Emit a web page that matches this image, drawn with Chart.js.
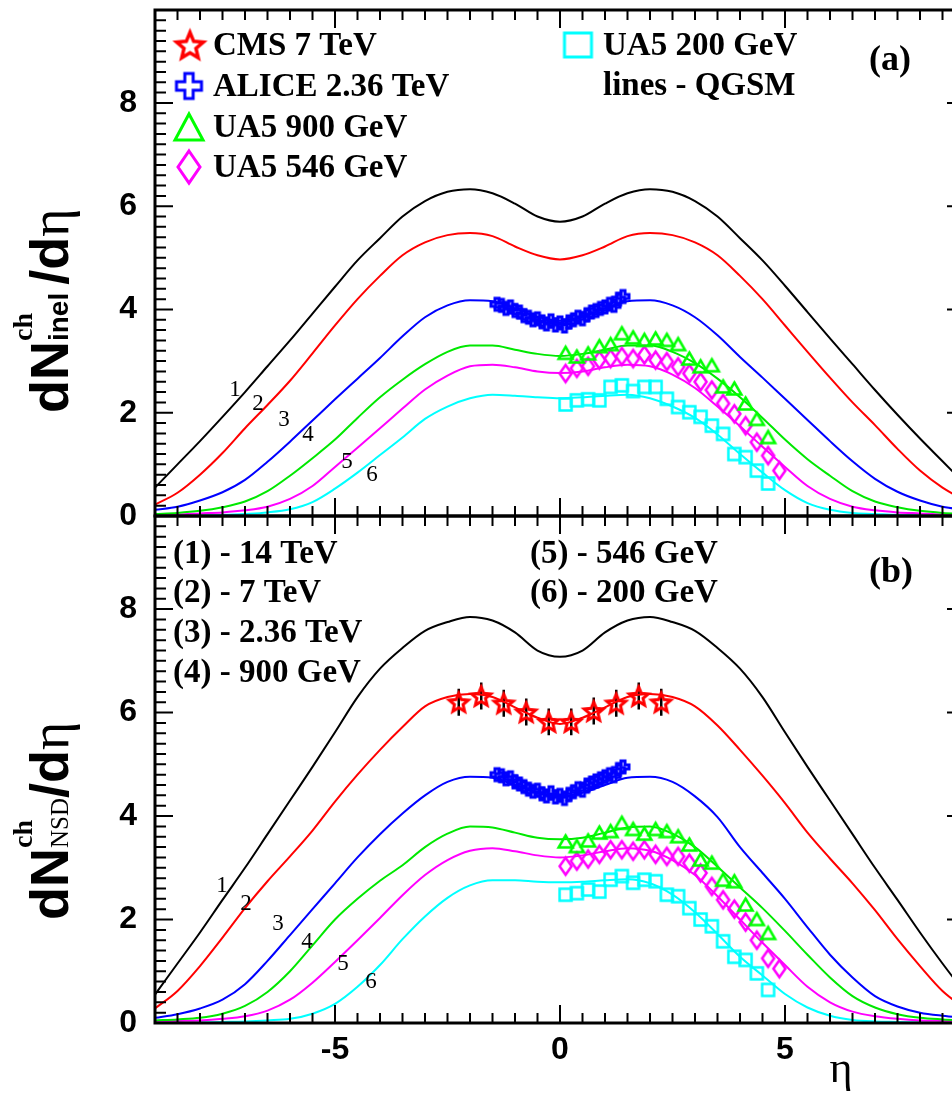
<!DOCTYPE html>
<html>
<head>
<meta charset="utf-8">
<script src="https://cdn.jsdelivr.net/npm/chart.js@4.4.1/dist/chart.umd.min.js"></script>
<style>
  html, body { margin: 0; padding: 0; background: #fff; overflow: hidden; width: 952px; height: 1097px; }
  canvas { position: absolute; left: 0; }
</style>
</head>
<body>
<canvas id="chartA" width="980" height="545" style="top:0px"></canvas>
<canvas id="chartB" width="980" height="607" style="top:490px"></canvas>
<script>
// η grid of the QGSM curves
const etaGrid = [-9,-8.5,-8,-7.5,-7,-6.5,-6,-5.5,-5,-4.5,-4,-3.5,-3,-2.5,-2,-1.5,-1,-0.5,0,0.5,1,1.5,2,2.5,3,3.5,4,4.5,5,5.5,6,6.5,7,7.5,8,8.5,9];

// (a) QGSM, inelastic
const inel14  = [0.55,1.00,1.45,1.92,2.40,2.90,3.40,3.92,4.44,4.95,5.38,5.80,6.10,6.28,6.33,6.25,6.05,5.80,5.70,5.80,6.05,6.25,6.33,6.28,6.10,5.80,5.38,4.95,4.46,3.95,3.44,2.94,2.44,1.96,1.50,1.06,0.62];
const inel7   = [0.22,0.45,0.80,1.22,1.70,2.15,2.62,3.15,3.69,4.20,4.65,5.05,5.30,5.44,5.48,5.42,5.22,5.05,4.97,5.05,5.22,5.42,5.48,5.44,5.30,5.05,4.65,4.20,3.69,3.18,2.68,2.20,1.76,1.30,0.88,0.55,0.30];
const inel236 = [0.12,0.18,0.30,0.46,0.70,1.05,1.44,1.85,2.26,2.66,3.06,3.48,3.85,4.08,4.18,4.16,4.02,3.86,3.78,3.86,4.02,4.16,4.18,4.08,3.85,3.50,3.08,2.68,2.27,1.86,1.45,1.06,0.72,0.47,0.30,0.18,0.12];
const inel900 = [0.04,0.06,0.10,0.17,0.28,0.48,0.78,1.12,1.48,1.90,2.30,2.64,2.94,3.18,3.30,3.30,3.22,3.14,3.10,3.14,3.22,3.30,3.30,3.18,2.96,2.66,2.30,1.90,1.48,1.10,0.78,0.48,0.28,0.17,0.10,0.06,0.04];
const inel546 = [0.02,0.03,0.05,0.07,0.11,0.18,0.33,0.58,0.95,1.32,1.70,2.08,2.45,2.72,2.90,2.93,2.88,2.80,2.77,2.80,2.88,2.93,2.90,2.74,2.48,2.12,1.74,1.34,0.95,0.58,0.33,0.18,0.11,0.07,0.05,0.03,0.02];
const inel200 = [0.00,0.00,0.01,0.02,0.04,0.07,0.13,0.27,0.53,0.84,1.18,1.52,1.88,2.12,2.28,2.35,2.33,2.30,2.28,2.30,2.33,2.35,2.28,2.12,1.90,1.58,1.20,0.84,0.50,0.25,0.12,0.06,0.04,0.02,0.01,0.00,0.00];

// (b) QGSM, non single diffractive
const nsd14  = [0.55,1.15,1.75,2.38,3.00,3.65,4.30,4.95,5.62,6.30,6.85,7.25,7.58,7.75,7.85,7.78,7.55,7.20,7.08,7.20,7.55,7.78,7.85,7.75,7.58,7.25,6.85,6.30,5.62,4.95,4.30,3.65,3.00,2.38,1.75,1.15,0.58];
const nsd7   = [0.28,0.62,1.10,1.65,2.22,2.74,3.22,3.72,4.28,4.80,5.28,5.72,6.12,6.30,6.36,6.30,6.10,5.90,5.78,5.90,6.10,6.30,6.36,6.30,6.12,5.75,5.28,4.78,4.25,3.68,3.18,2.70,2.18,1.62,1.10,0.62,0.28];
const nsd236 = [0.10,0.17,0.28,0.45,0.75,1.20,1.70,2.20,2.70,3.20,3.65,4.05,4.40,4.66,4.76,4.74,4.60,4.45,4.38,4.45,4.60,4.74,4.76,4.66,4.38,3.98,3.40,2.90,2.40,1.85,1.32,0.88,0.52,0.32,0.20,0.14,0.10];
const nsd900 = [0.05,0.07,0.10,0.18,0.33,0.60,1.00,1.50,2.00,2.40,2.75,3.05,3.40,3.66,3.80,3.78,3.68,3.58,3.55,3.58,3.68,3.78,3.80,3.66,3.40,3.02,2.62,2.22,1.78,1.32,0.88,0.52,0.30,0.17,0.10,0.07,0.05];
const nsd546 = [0.03,0.04,0.05,0.08,0.13,0.24,0.45,0.78,1.18,1.60,2.03,2.47,2.86,3.15,3.33,3.38,3.32,3.24,3.20,3.24,3.32,3.38,3.33,3.15,2.86,2.45,2.00,1.55,1.12,0.70,0.40,0.22,0.13,0.08,0.05,0.04,0.03];
const nsd200 = [0.00,0.00,0.01,0.02,0.03,0.05,0.08,0.18,0.37,0.70,1.12,1.62,2.06,2.42,2.66,2.76,2.76,2.73,2.72,2.73,2.76,2.78,2.70,2.48,2.14,1.72,1.28,0.92,0.56,0.30,0.14,0.06,0.03,0.02,0.01,0.00,0.00];

// experimental points
const ua5Eta = [0.125,0.375,0.625,0.875,1.125,1.375,1.625,1.875,2.125,2.375,2.625,2.875,3.125,3.375,3.625,3.875,4.125,4.375,4.625,4.875];
const ua5_900_inel = [3.16,3.09,3.15,3.29,3.33,3.54,3.46,3.41,3.44,3.41,3.33,3.05,2.90,2.92,2.51,2.47,2.18,1.88,1.53];
const ua5_546_inel = [2.76,2.86,2.90,3.02,3.05,3.09,3.05,3.12,3.02,2.99,2.89,2.76,2.60,2.44,2.18,1.98,1.75,1.43,1.17,0.88];
const ua5_200_inel = [2.16,2.24,2.26,2.24,2.50,2.53,2.42,2.50,2.50,2.27,2.11,2.01,1.92,1.75,1.59,1.20,1.14,0.88,0.63];
const ua5_900_nsd = [3.51,3.42,3.53,3.68,3.71,3.87,3.75,3.66,3.75,3.71,3.61,3.45,3.16,3.10,2.77,2.74,2.29,2.01,1.74];
const ua5_546_nsd = [3.03,3.13,3.17,3.26,3.35,3.35,3.32,3.35,3.26,3.22,3.22,3.09,2.90,2.64,2.38,2.20,1.95,1.60,1.25,1.05];
const ua5_200_nsd = [2.48,2.51,2.58,2.54,2.77,2.84,2.71,2.77,2.74,2.48,2.45,2.22,2.00,1.87,1.58,1.28,1.22,0.96,0.64];

const aliceEta = [-1.4,-1.3,-1.2,-1.1,-1.0,-0.9,-0.8,-0.7,-0.6,-0.5,-0.4,-0.3,-0.2,-0.1,0,0.1,0.2,0.3,0.4,0.5,0.6,0.7,0.8,0.9,1.0,1.1,1.2,1.3,1.4];
const alice_inel = [4.10,4.08,4.02,4.05,3.98,3.95,3.88,3.85,3.80,3.82,3.76,3.72,3.78,3.70,3.74,3.68,3.76,3.80,3.85,3.82,3.90,3.95,3.98,4.02,4.05,4.10,4.08,4.20,4.25];
const alice_nsd  = [4.80,4.78,4.72,4.74,4.66,4.62,4.57,4.52,4.48,4.50,4.43,4.39,4.45,4.37,4.40,4.34,4.42,4.47,4.53,4.50,4.60,4.64,4.68,4.72,4.76,4.80,4.78,4.90,4.95];

const cmsEta = [-2.25,-1.75,-1.25,-0.75,-0.25,0.25,0.75,1.25,1.75,2.25];
const cms_nsd = [6.20,6.32,6.18,6.01,5.82,5.82,6.03,6.18,6.32,6.20];
const cms_err = [0.26,0.26,0.26,0.26,0.26,0.26,0.26,0.26,0.26,0.26];

const colRed = '#ff0000', colBlue = '#0000ff', colGreen = '#00e800', colMag = '#ff00ff', colCyan = '#00ffff';
const SANS = '"Liberation Sans", Arial, sans-serif';
const SERIF = '"Liberation Serif", "Times New Roman", serif';

function pts(xs, ys) {
    return ys.map((y, i) => ({ x: xs[i], y: y }));
}

// marker images (hollow symbols)
function marker(kind, color, w, h, lw) {
    const c = document.createElement('canvas');
    c.width = w + lw * 2 + 2;
    c.height = h + lw * 2 + 2;
    const g = c.getContext('2d');
    const cx = c.width / 2, cy = c.height / 2;
    g.strokeStyle = color;
    g.lineWidth = lw;
    g.lineJoin = 'miter';
    g.beginPath();
    if (kind === 'star') {
        const R = w / 2, r = R * 0.45;
        for (let k = 0; k < 10; k++) {
            const a = -Math.PI / 2 + k * Math.PI / 5;
            const rr = k % 2 === 0 ? R : r;
            const px = cx + rr * Math.cos(a), py = cy + rr * Math.sin(a) + R * 0.1;
            if (k === 0) g.moveTo(px, py); else g.lineTo(px, py);
        }
        g.closePath();
    } else if (kind === 'cross') {
        const L = w / 2, a = w / 6;
        const p = [[-a,-L],[a,-L],[a,-a],[L,-a],[L,a],[a,a],[a,L],[-a,L],[-a,a],[-L,a],[-L,-a],[-a,-a]];
        p.forEach((q, k) => k === 0 ? g.moveTo(cx + q[0], cy + q[1]) : g.lineTo(cx + q[0], cy + q[1]));
        g.closePath();
    } else if (kind === 'tri') {
        g.moveTo(cx, cy - h / 2);
        g.lineTo(cx + w / 2, cy + h / 2);
        g.lineTo(cx - w / 2, cy + h / 2);
        g.closePath();
    } else if (kind === 'diamond') {
        g.moveTo(cx, cy - h / 2);
        g.lineTo(cx + w / 2, cy);
        g.lineTo(cx, cy + h / 2);
        g.lineTo(cx - w / 2, cy);
        g.closePath();
    } else {
        g.rect(cx - w / 2, cy - h / 2, w, h);
    }
    g.stroke();
    return c;
}

const mkStar = marker('star', colRed, 20, 20, 3);
const mkCross = marker('cross', colBlue, 12, 12, 3);
const mkTri = marker('tri', '#00ff00', 14, 12, 2.5);
const mkDiam = marker('diamond', colMag, 12, 17, 2.5);
const mkSq = marker('square', colCyan, 12, 12, 2.5);

const lgStar = marker('star', colRed, 28, 28, 3.5);
const lgCross = marker('cross', colBlue, 25, 25, 3);
const lgTri = marker('tri', '#00ff00', 28, 26, 3);
const lgDiam = marker('diamond', colMag, 22, 32, 3);
const lgSq = marker('square', colCyan, 27, 24, 3);

function curve(ys, color) {
    return { data: pts(etaGrid, ys), borderColor: color, borderWidth: 2, pointRadius: 0,
             fill: false, cubicInterpolationMode: 'monotone', order: 5 };
}
function points(xs, ys, img) {
    return { data: pts(xs, ys), showLine: false, pointStyle: img, pointRadius: 6, order: 1 };
}

// frame with inward ticks on all four sides
const frameTicks = {
    id: 'frameTicks',
    afterDraw(chart) {
        const { ctx, chartArea: a, scales: { x, y } } = chart;
        ctx.save();
        ctx.strokeStyle = '#000';
        ctx.lineWidth = 2;
        ctx.beginPath();
        for (let k = -18; k <= 18; k++) {
            const px = x.getPixelForValue(k / 2);
            const len = k % 10 === 0 ? 18 : 10;
            ctx.moveTo(px, a.bottom); ctx.lineTo(px, a.bottom - len);
            ctx.moveTo(px, a.top); ctx.lineTo(px, a.top + len);
        }
        for (let k = 0; k <= 49; k++) {
            const py = y.getPixelForValue(k / 5);
            const len = k % 10 === 0 ? 18 : 11;
            ctx.moveTo(a.left, py); ctx.lineTo(a.left + len, py);
            ctx.moveTo(a.right, py); ctx.lineTo(a.right - len, py);
        }
        ctx.stroke();
        ctx.lineWidth = 3;
        ctx.strokeRect(a.left, a.top, a.right - a.left, a.bottom - a.top);
        ctx.restore();
    }
};

// CMS error bars
const errBars = {
    id: 'errBars',
    beforeDatasetsDraw(chart, args, opts) {
        if (!opts.on) return;
        const { ctx, scales: { x, y } } = chart;
        ctx.save();
        ctx.strokeStyle = '#000';
        ctx.lineWidth = 2.5;
        ctx.beginPath();
        cmsEta.forEach((e, i) => {
            const px = x.getPixelForValue(e);
            ctx.moveTo(px, y.getPixelForValue(cms_nsd[i] - cms_err[i]));
            ctx.lineTo(px, y.getPixelForValue(cms_nsd[i] + cms_err[i]));
        });
        ctx.stroke();
        ctx.restore();
    }
};

// vertical title with sub/superscripts
function vTitle(ctx, bx, by, parts) {
    ctx.save();
    ctx.translate(bx, by);
    ctx.rotate(-Math.PI / 2);
    ctx.fillStyle = '#000';
    ctx.textAlign = 'left';
    ctx.textBaseline = 'alphabetic';
    let u = 0;
    parts.forEach(p => {
        if (p.sup !== undefined) {
            ctx.font = p.supFont;
            const w1 = ctx.measureText(p.sup).width;
            ctx.fillText(p.sup, u, p.supDy);
            ctx.font = p.subFont;
            const w2 = ctx.measureText(p.sub).width;
            ctx.fillText(p.sub, u, p.subDy);
            u += Math.max(w1, w2) + (p.after || 0);
        } else {
            ctx.font = p.font;
            ctx.fillText(p.text, u, 0);
            u += ctx.measureText(p.text).width;
        }
    });
    ctx.restore();
}

function txt(ctx, s, x, y, font, align) {
    ctx.font = font;
    ctx.textAlign = align || 'left';
    ctx.textBaseline = 'alphabetic';
    ctx.fillStyle = '#000';
    ctx.fillText(s, x, y);
}

const annotA = {
    id: 'annotA',
    afterDraw(chart) {
        const ctx = chart.ctx;
        ctx.save();
        const lf = 'bold 33px ' + SERIF;
        ctx.drawImage(lgStar, 190 - lgStar.width / 2, 45 - lgStar.height / 2);
        ctx.drawImage(lgCross, 189 - lgCross.width / 2, 86 - lgCross.height / 2);
        ctx.drawImage(lgTri, 189 - lgTri.width / 2, 127 - lgTri.height / 2);
        ctx.drawImage(lgDiam, 189 - lgDiam.width / 2, 167 - lgDiam.height / 2);
        ctx.drawImage(lgSq, 578 - lgSq.width / 2, 45 - lgSq.height / 2);
        txt(ctx, 'CMS 7 TeV', 213, 55, lf);
        txt(ctx, 'ALICE 2.36 TeV', 213, 96, lf);
        txt(ctx, 'UA5 900 GeV', 213, 137, lf);
        txt(ctx, 'UA5 546 GeV', 213, 177, lf);
        txt(ctx, 'UA5 200 GeV', 603, 55, lf);
        txt(ctx, 'lines - QGSM', 603, 95, lf);
        txt(ctx, '(a)', 869, 70, 'bold 36px ' + SERIF);
        const nf = '23px ' + SERIF;
        [['1', 235, 396], ['2', 258, 410], ['3', 284, 426], ['4', 308, 441], ['5', 347, 468], ['6', 372, 481]]
            .forEach(l => txt(ctx, l[0], l[1], l[2], nf, 'center'));
        vTitle(ctx, 68, 413, [
            { text: 'dN', font: 'bold 54px ' + SANS },
            { sup: 'ch', supFont: 'bold 28px ' + SERIF, supDy: -36, sub: 'inel', subFont: 'bold 28px ' + SANS, subDy: 0, after: 8 },
            { text: '/d', font: 'bold 54px ' + SANS },
            { text: 'η', font: '54px ' + SERIF }
        ]);
        ctx.restore();
    }
};

const annotB = {
    id: 'annotB',
    afterDraw(chart) {
        const ctx = chart.ctx;
        ctx.save();
        const lf = 'bold 33px ' + SERIF;
        // canvas B starts at page y = 490
        txt(ctx, '(1) - 14 TeV', 173, 73, lf);
        txt(ctx, '(2) - 7 TeV', 173, 112, lf);
        txt(ctx, '(3) - 2.36 TeV', 173, 152, lf);
        txt(ctx, '(4) - 900 GeV', 173, 192, lf);
        txt(ctx, '(5) - 546 GeV', 530, 73, lf);
        txt(ctx, '(6) - 200 GeV', 530, 112, lf);
        txt(ctx, '(b)', 869, 92, 'bold 36px ' + SERIF);
        const nf = '23px ' + SERIF;
        [['1', 222, 402], ['2', 246, 420], ['3', 278, 440], ['4', 307, 458], ['5', 343, 480], ['6', 371, 498]]
            .forEach(l => txt(ctx, l[0], l[1], l[2], nf, 'center'));
        vTitle(ctx, 68, 430, [
            { text: 'dN', font: 'bold 54px ' + SANS },
            { sup: 'ch', supFont: 'bold 28px ' + SERIF, supDy: -36, sub: 'NSD', subFont: '25px ' + SERIF, subDy: 0, after: 0 },
            { text: '/d', font: 'bold 54px ' + SANS },
            { text: 'η', font: '54px ' + SERIF }
        ]);
        txt(ctx, 'η', 841, 592, '44px ' + SERIF, 'center');
        ctx.restore();
    }
};

function options(padTop, xHeight, showX, extra) {
    const tickFont = { family: SANS, weight: 'bold', size: 32 };
    return {
        responsive: false,
        animation: false,
        events: [],
        layout: { padding: { left: 0, right: 15, top: padTop, bottom: 0 } },
        plugins: { legend: { display: false }, tooltip: { enabled: false }, errBars: { on: extra } },
        scales: {
            x: {
                type: 'linear', min: -9, max: 9,
                ticks: { display: showX, stepSize: 5, includeBounds: false, color: '#000', font: tickFont, padding: 8, maxRotation: 0 },
                grid: { display: false, drawTicks: false }, border: { display: false },
                afterFit(s) { s.height = xHeight; s.paddingLeft = 0; s.paddingRight = 0; }
            },
            y: {
                type: 'linear', min: 0, max: 9.8,
                ticks: { stepSize: 2, includeBounds: false, color: '#000', font: tickFont, padding: 18 },
                grid: { display: false, drawTicks: false }, border: { display: false },
                afterFit(s) { s.width = 155; s.paddingTop = 0; s.paddingBottom = 0; }
            }
        }
    };
}

new Chart(document.getElementById('chartA'), {
    type: 'line',
    data: {
        datasets: [
            points(aliceEta, alice_inel, mkCross),
            points(ua5Eta, ua5_900_inel, mkTri),
            points(ua5Eta, ua5_546_inel, mkDiam),
            points(ua5Eta, ua5_200_inel, mkSq),
            curve(inel14, '#000000'),
            curve(inel7, colRed),
            curve(inel236, colBlue),
            curve(inel900, colGreen),
            curve(inel546, colMag),
            curve(inel200, colCyan)
        ]
    },
    options: options(10, 29, false, false),
    plugins: [frameTicks, annotA]
});

new Chart(document.getElementById('chartB'), {
    type: 'line',
    data: {
        datasets: [
            points(cmsEta, cms_nsd, mkStar),
            points(aliceEta, alice_nsd, mkCross),
            points(ua5Eta, ua5_900_nsd, mkTri),
            points(ua5Eta, ua5_546_nsd, mkDiam),
            points(ua5Eta, ua5_200_nsd, mkSq),
            curve(nsd14, '#000000'),
            curve(nsd7, colRed),
            curve(nsd236, colBlue),
            curve(nsd900, colGreen),
            curve(nsd546, colMag),
            curve(nsd200, colCyan)
        ]
    },
    options: options(26, 74, true, true),
    plugins: [frameTicks, errBars, annotB]
});
</script>
</body>
</html>
